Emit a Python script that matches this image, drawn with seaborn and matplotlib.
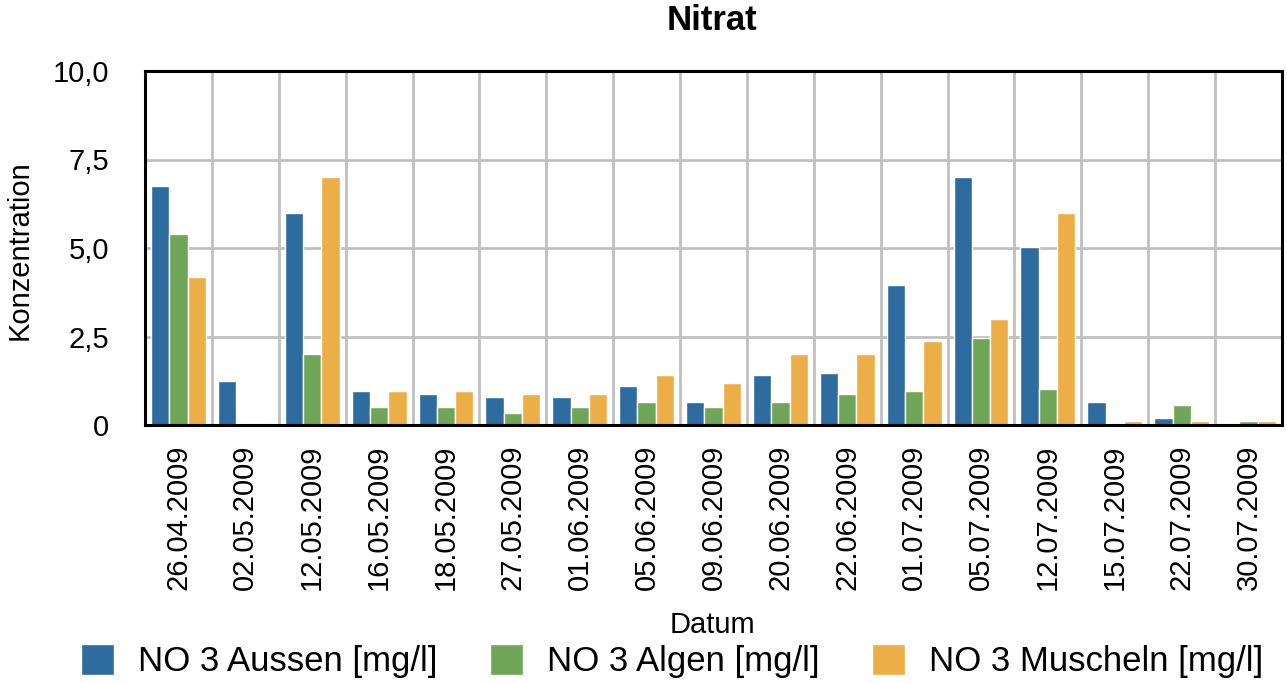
import matplotlib
matplotlib.use("Agg")
import matplotlib.pyplot as plt
import seaborn as sns
import pandas as pd
import numpy as np

dates = ["26.04.2009", "02.05.2009", "12.05.2009", "16.05.2009", "18.05.2009",
         "27.05.2009", "01.06.2009", "05.06.2009", "09.06.2009", "20.06.2009",
         "22.06.2009", "01.07.2009", "05.07.2009", "12.07.2009", "15.07.2009",
         "22.07.2009", "30.07.2009"]
aussen = [6.75, 1.24, 6.0, 0.97, 0.88, 0.8, 0.8, 1.1, 0.65, 1.41, 1.47, 3.95, 7.0, 5.03, 0.65, 0.2, 0.0]
algen = [5.4, 0.0, 2.0, 0.51, 0.5, 0.34, 0.5, 0.65, 0.5, 0.65, 0.88, 0.96, 2.47, 1.02, 0.0, 0.57, 0.1]
muscheln = [4.18, 0.0, 7.0, 0.97, 0.97, 0.88, 0.88, 1.41, 1.19, 2.0, 2.0, 2.37, 3.0, 6.0, 0.1, 0.1, 0.1]
series_names = ["NO 3 Aussen [mg/l]", "NO 3 Algen [mg/l]", "NO 3 Muscheln [mg/l]"]
colors = ["#2e6b9e", "#6fa557", "#ecaf47"]
yticks = [0, 2.5, 5.0, 7.5, 10.0]
ytick_labels = ["0", "2,5", "5,0", "7,5", "10,0"]

rows = []
for name, vals in zip(series_names, [aussen, algen, muscheln]):
    for d, v in zip(dates, vals):
        rows.append({"Datum": d, "Serie": name, "Wert": v})
df = pd.DataFrame(rows)

sns.set_theme(style="white")
plt.rcParams["font.family"] = ["Liberation Sans", "DejaVu Sans"]
plt.rcParams["text.color"] = "black"
plt.rcParams["axes.labelcolor"] = "black"
plt.rcParams["xtick.color"] = "black"
plt.rcParams["ytick.color"] = "black"

fig = plt.figure(figsize=(12.87, 6.83), dpi=100)
ax = fig.add_axes([145/1287, 1 - 425/683, (1282-145)/1287, (425-71)/683])

sns.barplot(data=df, x="Datum", y="Wert", hue="Serie", order=dates,
            hue_order=series_names, palette=colors, width=0.82,
            edgecolor="white", linewidth=1.0, saturation=1, ax=ax, legend=True)

ax.set_xlim(-0.5, len(dates) - 0.5)
ax.set_ylim(0, 10)
ax.set_yticks(yticks)
ax.set_yticklabels(ytick_labels, fontsize=21)
ax.set_xticks(range(len(dates)))
ax.set_xticklabels(dates, rotation=90, fontsize=21)
ax.set_xticks(np.arange(-0.5, len(dates), 1.0), minor=True)
ax.tick_params(axis="x", which="major", length=0, pad=14)
ax.tick_params(axis="x", which="minor", length=0)
ax.tick_params(axis="y", length=0, pad=26)
ax.set_axisbelow(True)
ax.grid(False)
ax.grid(True, axis="y", which="major", color="#c0c0c0", linewidth=2.0)
ax.grid(True, axis="x", which="minor", color="#c0c0c0", linewidth=2.0)
for s in ax.spines.values():
    s.set_color("black")
    s.set_linewidth(2.2)

ax.set_ylabel("")
ax.set_xlabel("")
fig.text(20/1287, 1 - 250/683, "Konzentration", ha="center", va="center",
         rotation=90, fontsize=21)
fig.text(712/1287, 1 - 625/683, "Datum", ha="center", va="center", fontsize=21)
fig.text(712/1287, 1 - 20/683, "Nitrat", ha="center", va="center", fontsize=25, fontweight="bold")

handles, labels = ax.get_legend_handles_labels()
ax.get_legend().remove()
fig.legend(handles, labels, loc="center", bbox_to_anchor=(672/1287, 1 - 661/683),
           ncol=3, frameon=False, fontsize=25, handlelength=0.95, handleheight=1.0,
           handletextpad=0.7, columnspacing=1.5, borderaxespad=0, borderpad=0)

fig.savefig("out.png", dpi=100)
